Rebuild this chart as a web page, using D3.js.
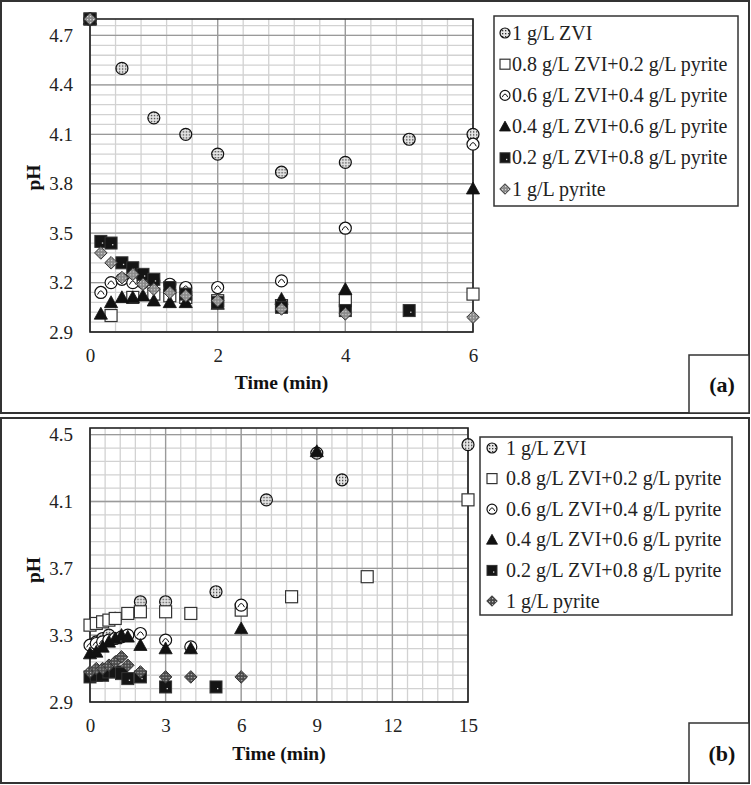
<!DOCTYPE html>
<html><head><meta charset="utf-8">
<script src="https://cdn.jsdelivr.net/npm/d3@7"></script>
<style>body{margin:0;background:#fff}svg{display:block}</style>
</head><body>
<svg id="c" width="751" height="785" font-family="Liberation Serif"></svg>
<script>
// ---------- DATA ----------
const seriesNames = ["1 g/L ZVI","0.8 g/L ZVI+0.2 g/L pyrite","0.6 g/L ZVI+0.4 g/L pyrite","0.4 g/L ZVI+0.6 g/L pyrite","0.2 g/L ZVI+0.8 g/L pyrite","1 g/L pyrite"];
const markerTypes = ["zvi","open","swirl","tri","black","diamond"];

// panel (a): [time (min), pH]
const aZVI  = [[0,4.8],[0.5,4.5],[1,4.2],[1.5,4.1],[2,3.98],[3,3.87],[4,3.93],[5,4.07],[6,4.1]];
const aZ08  = [[0,4.8],[0.33,3.0],[0.67,3.11],[1,3.13],[1.25,3.12],[1.5,3.11],[2,3.09],[3,3.06],[4,3.09],[6,3.13]];
const aZ06  = [[0,4.8],[0.17,3.14],[0.33,3.2],[0.5,3.22],[0.67,3.2],[0.83,3.2],[1,3.21],[1.25,3.19],[1.5,3.17],[2,3.17],[3,3.21],[4,3.53],[6,4.04]];
const aZ04  = [[0,4.8],[0.17,3.01],[0.33,3.08],[0.5,3.11],[0.67,3.11],[0.83,3.12],[1,3.09],[1.25,3.08],[1.5,3.08],[2,3.07],[3,3.1],[4,3.16],[6,3.77]];
const aZ02  = [[0,4.8],[0.17,3.45],[0.33,3.44],[0.5,3.32],[0.67,3.29],[0.83,3.25],[1,3.22],[1.25,3.17],[1.5,3.13],[2,3.08],[3,3.05],[4,3.03],[5,3.03]];
const aPyr  = [[0,4.8],[0.17,3.38],[0.33,3.32],[0.5,3.23],[0.67,3.25],[0.83,3.19],[1,3.16],[1.25,3.14],[1.5,3.12],[2,3.09],[3,3.04],[4,3.01],[6,2.99]];

// panel (b)
const bZVI  = [[0.25,3.26],[0.5,3.28],[0.75,3.3],[1,3.4],[2,3.5],[3,3.5],[5,3.56],[7,4.11],[9,4.39],[10,4.23],[15,4.44]];
const bZ08  = [[0,3.36],[0.25,3.37],[0.5,3.38],[0.75,3.39],[1,3.4],[1.5,3.43],[2,3.44],[3,3.44],[4,3.43],[6,3.45],[8,3.53],[11,3.65],[15,4.11]];
const bZ06  = [[0,3.24],[0.25,3.25],[0.5,3.26],[0.75,3.27],[1,3.28],[1.25,3.29],[1.5,3.3],[2,3.31],[3,3.27],[4,3.23],[6,3.48]];
const bZ04  = [[0,3.19],[0.25,3.2],[0.5,3.23],[0.75,3.26],[1,3.28],[1.25,3.3],[1.5,3.29],[2,3.24],[3,3.22],[4,3.22],[6,3.34],[9,4.4]];
const bZ02  = [[0,3.05],[0.25,3.06],[0.5,3.06],[0.75,3.08],[1,3.08],[1.25,3.07],[1.5,3.04],[2,3.05],[3,2.99],[5,2.99]];
const bPyr  = [[0,3.08],[0.25,3.1],[0.5,3.1],[0.75,3.12],[1,3.14],[1.25,3.17],[1.5,3.12],[2,3.08],[3,3.05],[4,3.05],[6,3.05]];

// tick labels
const aXTicks = [0,2,4,6];
const aYTicks = [2.9,3.2,3.5,3.8,4.1,4.4,4.7];
const bXTicks = [0,3,6,9,12,15];
const bYTicks = [2.9,3.3,3.7,4.1,4.5];

// ---------- DRAWING ----------
const FONT = "Liberation Serif";
const svg = d3.select("#c");
const defs = svg.append("defs");
const p1 = defs.append("pattern").attr("id","dotPat").attr("width",3).attr("height",3).attr("patternUnits","userSpaceOnUse");
p1.append("rect").attr("width",3).attr("height",3).attr("fill","#e6e6e6");
p1.append("rect").attr("width",1.3).attr("height",1.3).attr("fill","#333");
const p2 = defs.append("pattern").attr("id","pyrPat").attr("width",3).attr("height",3).attr("patternUnits","userSpaceOnUse");
p2.append("rect").attr("width",3).attr("height",3).attr("fill","#8a8a8a");
p2.append("rect").attr("width",1.2).attr("height",1.2).attr("fill","#d8d8d8");
const p3 = defs.append("pattern").attr("id","pyrPatB").attr("width",3).attr("height",3).attr("patternUnits","userSpaceOnUse");
p3.append("rect").attr("width",3).attr("height",3).attr("fill","#4a4a4a");
p3.append("rect").attr("width",1.2).attr("height",1.2).attr("fill","#bbb");

function tx(sel){ return sel.style("font-family","\"Liberation Serif\", \"Times New Roman\", serif"); }

function drawMarker(g, type, s, dark) {
  if (type === "zvi") {
    g.append("circle").attr("r",s).attr("fill","url(#dotPat)").attr("stroke","#111").attr("stroke-width",1.2);
  } else if (type === "open") {
    g.append("rect").attr("x",-s).attr("y",-s).attr("width",2*s).attr("height",2*s).attr("fill","#fff").attr("stroke","#333").attr("stroke-width",1.2);
  } else if (type === "swirl") {
    g.append("circle").attr("r",s).attr("fill","#fff").attr("stroke","#111").attr("stroke-width",1.2);
    g.append("path").attr("d",`M${-s*0.55},${s*0.35} Q0,${-s*0.9} ${s*0.55},${s*0.35}`).attr("fill","none").attr("stroke","#111").attr("stroke-width",1);
  } else if (type === "tri") {
    const h = s*1.1;
    g.append("path").attr("d",`M0,${-h} L${h},${h*0.8} L${-h},${h*0.8} Z`).attr("fill","#111").attr("stroke","#111").attr("stroke-width",0.8);
  } else if (type === "black") {
    g.append("rect").attr("x",-s).attr("y",-s).attr("width",2*s).attr("height",2*s).attr("fill","#151515").attr("stroke","#333").attr("stroke-width",1);
    g.append("rect").attr("x",1).attr("y",1).attr("width",1.3).attr("height",1.3).attr("fill","#ddd");
  } else if (type === "diamond") {
    const d = s*1.05;
    g.append("path").attr("d",`M0,${-d} L${d},0 L0,${d} L${-d},0 Z`).attr("fill", dark ? "url(#pyrPatB)" : "url(#pyrPat)").attr("stroke","#333").attr("stroke-width",1);
  }
}

function frac(v){ return Math.round(v*1000)/1000; }

function drawPanel(cfg) {
  const g = svg.append("g");
  g.append("rect").attr("x",cfg.frame[0]).attr("y",cfg.frame[1]).attr("width",cfg.frame[2]).attr("height",cfg.frame[3])
    .attr("fill","none").attr("stroke","#333").attr("stroke-width",2);
  g.append("rect").attr("x",cfg.tag.x).attr("y",cfg.tag.y).attr("width",cfg.tag.w).attr("height",cfg.tag.h)
    .attr("fill","#fff").attr("stroke","#333").attr("stroke-width",1.5);
  tx(g.append("text").attr("x",cfg.tag.x+cfg.tag.w/2+3).attr("y",cfg.tag.y+cfg.tag.h/2+8).attr("text-anchor","middle")
    .attr("font-weight","bold").attr("font-size",22).attr("fill","#111").text(cfg.tag.label));

  const x = d3.scaleLinear().domain(cfg.xDomain).range([cfg.plot.x0,cfg.plot.x1]);
  const y = d3.scaleLinear().domain(cfg.yDomain).range([cfg.plot.y1,cfg.plot.y0]);

  const xm = d3.range(0, Math.round((cfg.xDomain[1]-cfg.xDomain[0])/cfg.xMinor)+1).map(i=>frac(cfg.xDomain[0]+i*cfg.xMinor));
  const ym = d3.range(0, Math.floor((cfg.yDomain[1]-cfg.yDomain[0])/cfg.yMinor+1e-6)+1).map(i=>frac(cfg.yDomain[0]+i*cfg.yMinor));
  const grid = g.append("g");
  grid.selectAll(".vx").data(xm).join("line").attr("x1",d=>x(d)).attr("x2",d=>x(d)).attr("y1",cfg.plot.y0).attr("y2",cfg.plot.y1)
    .attr("stroke","#d2d2d2").attr("stroke-width",1.3);
  grid.selectAll(".hy").data(ym).join("line").attr("y1",d=>y(d)).attr("y2",d=>y(d)).attr("x1",cfg.plot.x0).attr("x2",cfg.plot.x1)
    .attr("stroke","#d2d2d2").attr("stroke-width",1.3);
  grid.selectAll(".vX").data(cfg.xTicks).join("line").attr("x1",d=>x(d)).attr("x2",d=>x(d)).attr("y1",cfg.plot.y0).attr("y2",cfg.plot.y1)
    .attr("stroke","#9a9a9a").attr("stroke-width",1.3);
  grid.selectAll(".hY").data(cfg.yTicks).join("line").attr("y1",d=>y(d)).attr("y2",d=>y(d)).attr("x1",cfg.plot.x0).attr("x2",cfg.plot.x1)
    .attr("stroke","#9a9a9a").attr("stroke-width",1.3);
  g.append("rect").attr("x",cfg.plot.x0).attr("y",cfg.plot.y0).attr("width",cfg.plot.x1-cfg.plot.x0).attr("height",cfg.plot.y1-cfg.plot.y0)
    .attr("fill","none").attr("stroke","#222").attr("stroke-width",1.6);

  const ax = g.append("g").attr("transform",`translate(0,${cfg.plot.y1})`)
    .call(d3.axisBottom(x).tickValues(cfg.xTicks).tickSize(0).tickPadding(17).tickFormat(d3.format("d")));
  const ay = g.append("g").attr("transform",`translate(${cfg.plot.x0},0)`)
    .call(d3.axisLeft(y).tickValues(cfg.yTicks).tickSize(0).tickPadding(17).tickFormat(d3.format(".1f")));
  [ax,ay].forEach(a=>{ a.select(".domain").remove(); a.attr("font-family",FONT).attr("font-size",19);
    tx(a.selectAll("text")).attr("font-size",19).attr("fill","#222"); });

  tx(g.append("text").attr("x",(cfg.plot.x0+cfg.plot.x1)/2).attr("y",cfg.xLabelY).attr("text-anchor","middle")
    .attr("font-weight","bold").attr("font-size",19.5).attr("fill","#111").text("Time (min)"));
  tx(g.append("text").attr("transform",`translate(${cfg.yLabelX},${(cfg.plot.y0+cfg.plot.y1)/2+ (cfg.yLabelDy||0)}) rotate(-90)`).attr("text-anchor","middle")
    .attr("font-weight","bold").attr("font-size",19.5).attr("fill","#111").text("pH"));

  cfg.series.forEach((data, i) => {
    const sg = g.append("g");
    sg.selectAll("g").data(data).join("g").attr("transform",d=>`translate(${x(d[0])},${y(d[1])})`)
      .each(function(){ drawMarker(d3.select(this), markerTypes[i], 6, cfg.dark); });
  });

  const L = cfg.legend;
  g.append("rect").attr("x",L.x).attr("y",L.y).attr("width",L.w).attr("height",L.h).attr("fill","#fff").attr("stroke","#333").attr("stroke-width",1.5);
  seriesNames.forEach((name,i)=>{
    const cy = L.row0 + i*L.step;
    const mg = g.append("g").attr("transform",`translate(${L.mx},${cy})`);
    drawMarker(mg, markerTypes[i], 5, cfg.dark);
    tx(g.append("text").attr("x",L.tx).attr("y",cy+6.5).attr("font-size",20).attr("fill","#222").text(name));
  });
}

drawPanel({
  frame:[1,1,748,412],
  tag:{x:689,y:355,w:60,h:58,label:"(a)"},
  plot:{x0:90,x1:473,y0:19,y1:332},
  xDomain:[0,6], yDomain:[2.9,4.8], xMinor:0.4, yMinor:0.06,
  xTicks:aXTicks, yTicks:aYTicks,
  xLabelY:389, yLabelX:40, yLabelDy:2,
  series:[aZVI,aZ08,aZ06,aZ04,aZ02,aPyr], dark:false,
  legend:{x:494,y:16,w:244,h:190,row0:33,step:31.2,mx:505,tx:512}
});
drawPanel({
  frame:[1,418,748,365],
  tag:{x:689,y:723,w:60,h:60,label:"(b)"},
  plot:{x0:90,x1:468,y0:428,y1:702},
  xDomain:[0,15], yDomain:[2.9,4.54], xMinor:0.6, yMinor:0.08,
  xTicks:bXTicks, yTicks:bYTicks,
  xLabelY:760, yLabelX:40, yLabelDy:5,
  series:[bZVI,bZ08,bZ06,bZ04,bZ02,bPyr], dark:true,
  legend:{x:480,y:437,w:252,h:178,row0:448,step:30.6,mx:492,tx:506}
});
</script>
</body></html>
